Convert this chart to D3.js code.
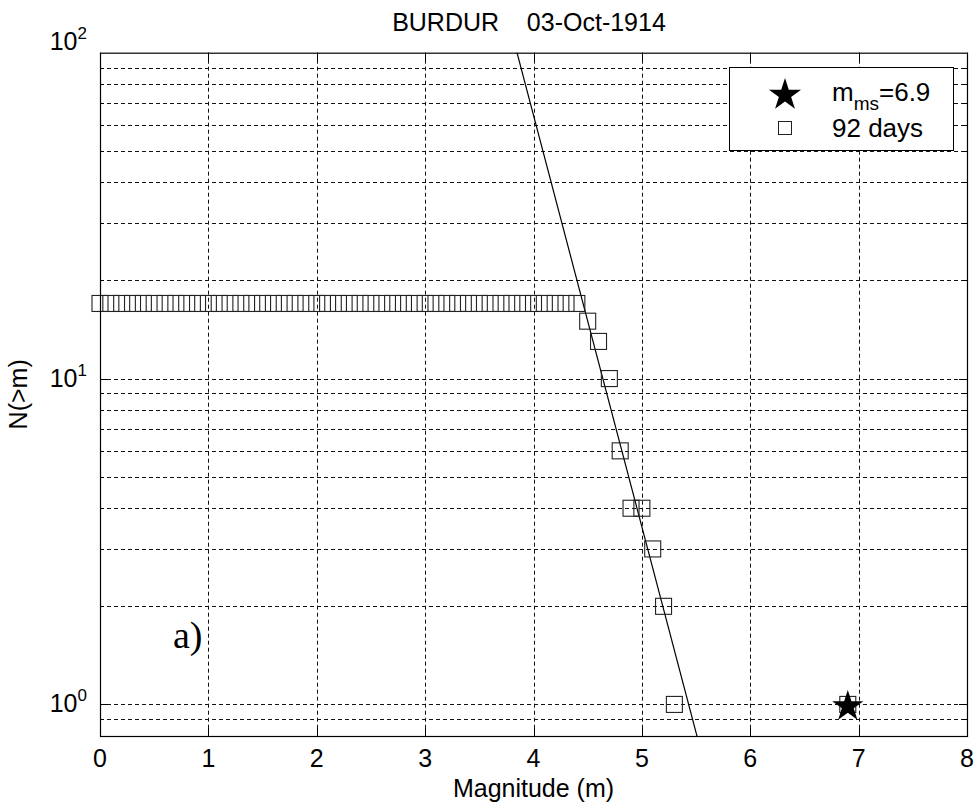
<!DOCTYPE html>
<html>
<head>
<meta charset="utf-8">
<script src="https://cdn.jsdelivr.net/npm/d3@7"></script>
<style>
  body { margin: 0; background: #fff; }
  text { font-family: "Liberation Sans", Arial, sans-serif; fill: #000; }
</style>
</head>
<body>
<div id="chart"></div>
<script>
// magnitudes of the 92-day aftershock curve and cumulative counts N(>m)
const mags = [0, 0.1, 0.2, 0.3, 0.4, 0.5, 0.6, 0.7, 0.8, 0.9,
  1, 1.1, 1.2, 1.3, 1.4, 1.5, 1.6, 1.7, 1.8, 1.9,
  2, 2.1, 2.2, 2.3, 2.4, 2.5, 2.6, 2.7, 2.8, 2.9,
  3, 3.1, 3.2, 3.3, 3.4, 3.5, 3.6, 3.7, 3.8, 3.9,
  4, 4.1, 4.2, 4.3, 4.4, 4.5, 4.6, 4.7, 4.8, 4.9,
  5, 5.1, 5.2, 5.3];
const counts = [17, 17, 17, 17, 17, 17, 17, 17, 17, 17,
  17, 17, 17, 17, 17, 17, 17, 17, 17, 17,
  17, 17, 17, 17, 17, 17, 17, 17, 17, 17,
  17, 17, 17, 17, 17, 17, 17, 17, 17, 17,
  17, 17, 17, 17, 17, 15, 13, 10, 6, 4,
  4, 3, 2, 1];
// main shock
const mainMag = 6.9;
const mainN = 1;
// Gutenberg-Richter fit: log10 N = a - b m
const fitA = 6.86;
const fitB = 1.263;

const xTicks = [0, 1, 2, 3, 4, 5, 6, 7, 8];
const yDecades = [1, 10, 100];
const yGrid = [0.9, 1, 2, 3, 4, 5, 6, 7, 8, 9, 10, 20, 30, 40, 50, 60, 70, 80, 90];

const width = 977,
  height = 809;
const pLeft = 100,
  pRight = 967,
  pTop = 52.7,
  pBottom = 736;

const svg = d3
  .select("#chart")
  .append("svg")
  .attr("width", width)
  .attr("height", height);

const x = d3.scaleLinear().domain([0, 8]).range([pLeft, pRight]);
const y = d3.scaleLog().domain([0.8, 100]).range([pBottom, pTop]);

svg.append("rect")
  .attr("x", pLeft).attr("y", pTop)
  .attr("width", pRight - pLeft).attr("height", pBottom - pTop)
  .attr("fill", "#fff");

svg.append("clipPath").attr("id", "clip")
  .append("rect")
  .attr("x", pLeft).attr("y", pTop)
  .attr("width", pRight - pLeft).attr("height", pBottom - pTop);

// grid
const grid = svg.append("g")
  .attr("stroke", "#111")
  .attr("stroke-width", 1)
  .attr("stroke-dasharray", "4,3");
grid.selectAll(".vg")
  .data(xTicks.slice(1, -1))
  .join("line")
  .attr("x1", (d) => Math.round(x(d)) + 0.5)
  .attr("x2", (d) => Math.round(x(d)) + 0.5)
  .attr("y1", pTop).attr("y2", pBottom);
grid.selectAll(".hg")
  .data(yGrid)
  .join("line")
  .attr("x1", pLeft).attr("x2", pRight)
  .attr("y1", (d) => Math.round(y(d)) + 0.5)
  .attr("y2", (d) => Math.round(y(d)) + 0.5);

// tick marks inside the box
const ticks = svg.append("g").attr("stroke", "#000").attr("stroke-width", 1);
xTicks.forEach((d) => {
  const xx = Math.round(x(d)) + 0.5;
  ticks.append("line").attr("x1", xx).attr("x2", xx).attr("y1", pBottom).attr("y2", pBottom - 8);
  ticks.append("line").attr("x1", xx).attr("x2", xx).attr("y1", pTop).attr("y2", pTop + 8);
});
yGrid.forEach((d) => {
  const yy = Math.round(y(d)) + 0.5;
  const len = yDecades.includes(d) ? 8 : 4;
  ticks.append("line").attr("x1", pLeft).attr("x2", pLeft + len).attr("y1", yy).attr("y2", yy);
  ticks.append("line").attr("x1", pRight).attr("x2", pRight - len).attr("y1", yy).attr("y2", yy);
});

// fit line
const fitM = [3.5, 6];
svg.append("path")
  .attr("clip-path", "url(#clip)")
  .attr("fill", "none")
  .attr("stroke", "#000")
  .attr("stroke-width", 1.2)
  .attr("d", d3.line()
    .x((m) => x(m))
    .y((m) => y(Math.pow(10, fitA - fitB * m)))(fitM));

// squares
const sq = 16;
const points = mags.map((m, i) => [m, counts[i]]).concat([[mainMag, mainN]]);
svg.append("g")
  .selectAll("rect")
  .data(points)
  .join("rect")
  .attr("x", (d) => x(d[0]) - sq / 2)
  .attr("y", (d) => y(d[1]) - sq / 2)
  .attr("width", sq).attr("height", sq)
  .attr("fill", "none")
  .attr("stroke", "#222")
  .attr("stroke-width", 1.1);

// main shock star
const star = d3.symbol().type(d3.symbolStar).size(300);
svg.append("path")
  .attr("d", star())
  .attr("transform", `translate(${x(mainMag)},${y(mainN) + 2})`)
  .attr("fill", "#000");

// box
svg.append("rect")
  .attr("x", pLeft + 0.5).attr("y", pTop + 0.5)
  .attr("width", pRight - pLeft).attr("height", pBottom - pTop)
  .attr("fill", "none").attr("stroke", "#000").attr("stroke-width", 1.2);

// x tick labels
svg.append("g")
  .selectAll("text")
  .data(xTicks)
  .join("text")
  .attr("x", (d) => x(d))
  .attr("y", pBottom + 31)
  .attr("text-anchor", "middle")
  .attr("font-size", 25)
  .text((d) => d);

// y tick labels 10^n
const yl = svg.append("g")
  .selectAll("text")
  .data(yDecades)
  .join("text")
  .attr("x", 87)
  .attr("y", (d) => y(d) + (d === 100 ? -3 : 8))
  .attr("text-anchor", "end")
  .attr("font-size", 25);
yl.append("tspan").text("10");
yl.append("tspan")
  .attr("dy", -11)
  .attr("font-size", 17)
  .text((d) => Math.round(Math.log10(d)));

// title and axis labels
svg.append("text")
  .attr("x", 529).attr("y", 31)
  .attr("text-anchor", "middle")
  .attr("font-size", 25)
  .attr("xml:space", "preserve")
  .style("white-space", "pre")
  .text("BURDUR    03-Oct-1914");

svg.append("text")
  .attr("x", (pLeft + pRight) / 2).attr("y", 797)
  .attr("text-anchor", "middle")
  .attr("font-size", 25)
  .text("Magnitude (m)");

svg.append("text")
  .attr("transform", `translate(27,${(pTop + pBottom) / 2}) rotate(-90)`)
  .attr("text-anchor", "middle")
  .attr("font-size", 25)
  .text("N(>m)");

svg.append("text")
  .attr("x", 173).attr("y", 648)
  .style("font-family", "'Liberation Serif', 'Times New Roman', serif")
  .attr("font-size", 38)
  .text("a)");

// legend
const lg = svg.append("g");
lg.append("rect")
  .attr("x", 729.5).attr("y", 67.5)
  .attr("width", 224).attr("height", 83)
  .attr("fill", "#fff").attr("stroke", "#000").attr("stroke-width", 1);
lg.append("path")
  .attr("d", d3.symbol().type(d3.symbolStar).size(320)())
  .attr("transform", "translate(785,95)")
  .attr("fill", "#000");
const lt = lg.append("text").attr("x", 832).attr("y", 101).attr("font-size", 26);
lt.append("tspan").text("m");
lt.append("tspan").attr("dy", 9).attr("font-size", 19).text("ms");
lt.append("tspan").attr("dy", -9).text("=6.9");
lg.append("rect")
  .attr("x", 778.5).attr("y", 121.5)
  .attr("width", 13).attr("height", 13)
  .attr("fill", "none").attr("stroke", "#222");
lg.append("text").attr("x", 832).attr("y", 137).attr("font-size", 26).text("92 days");
</script>
</body>
</html>
